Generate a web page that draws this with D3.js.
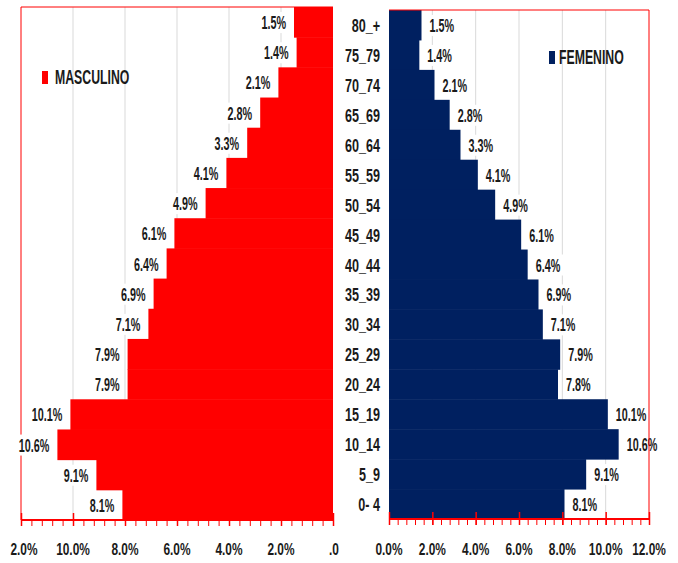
<!DOCTYPE html>
<html>
<head>
<meta charset="utf-8">
<script src="https://cdn.jsdelivr.net/npm/d3@7"></script>
<style>
  body { margin: 0; background: #fff; }
  svg { display: block; }
  text { font-family: "Liberation Sans", Arial, sans-serif; font-weight: bold; fill: #1a1a1a; }
</style>
</head>
<body>
<svg id="chart" width="678" height="563"></svg>
<script>
// data
const ageGroups = ['0- 4', '5_9', '10_14', '15_19', '20_24', '25_29', '30_34', '35_39', '40_44',
  '45_49', '50_54', '55_59', '60_64', '65_69', '70_74', '75_79', '80_+'];
const masculino = [8.1, 9.1, 10.6, 10.1, 7.9, 7.9, 7.1, 6.9, 6.4, 6.1, 4.9, 4.1, 3.3, 2.8, 2.1, 1.4, 1.5];
const femenino  = [8.1, 9.1, 10.6, 10.1, 7.8, 7.9, 7.1, 6.9, 6.4, 6.1, 4.9, 4.1, 3.3, 2.8, 2.1, 1.4, 1.5];
const majorTicks = [0, 2, 4, 6, 8, 10, 12];
const leftTickLabels  = ['.0', '2.0%', '4.0%', '6.0%', '8.0%', '10.0%', '2.0%'];
const rightTickLabels = ['0.0%', '2.0%', '4.0%', '6.0%', '8.0%', '10.0%', '12.0%'];

const red = '#ff0000';
const navy = '#002060';
const grid = '#d9d9d9';

const svg = d3.select('#chart');
const order = ageGroups.slice().reverse();

// condensed text: the reference glyphs are tall and narrow
function label(g, x, y, str, anchor, size, scale) {
  return g.append('text')
    .attr('transform', `translate(${x},${y}) scale(${scale},1)`)
    .attr('text-anchor', anchor)
    .attr('font-size', size)
    .text(str);
}

function panel(opts) {
  const { x0, x12, top, bottom, values, color, side, tickLabels } = opts;
  const x = d3.scaleLinear([0, 12], [x0, x12]);
  const y = d3.scaleBand(order, [top, bottom]);
  const g = svg.append('g');
  const rows = order.map(k => ({ k, v: values[ageGroups.indexOf(k)] }));

  // gridlines
  g.append('g').selectAll('line')
    .data(majorTicks.filter(d => d > 0 && d < 12))
    .join('line')
    .attr('x1', d => x(d)).attr('x2', d => x(d))
    .attr('y1', top).attr('y2', bottom)
    .attr('stroke', grid);

  // bars
  g.append('g').selectAll('rect')
    .data(rows)
    .join('rect')
    .attr('x', d => Math.min(x(0), x(d.v)))
    .attr('width', d => Math.abs(x(d.v) - x(0)))
    .attr('y', d => y(d.k))
    .attr('height', y.bandwidth() + 0.5)
    .attr('fill', color);

  const frame = `M${x0},${top}H${x12}V${bottom}`;
  if (side === 'left') g.append('path').attr('d', frame).attr('fill', 'none').attr('stroke', red);

  // data labels with white boxes
  const lg = g.append('g');
  const ls = 0.6;
  rows.forEach(d => {
    const cy = y(d.k) + y.bandwidth() / 2;
    const tx = side === 'left' ? x(d.v) - 8 : x(d.v) + 8;
    const box = lg.append('rect').attr('fill', '#fff');
    const t = label(lg, tx, cy + 7, d.v.toFixed(1) + '%', side === 'left' ? 'end' : 'start', 18, ls);
    const w = t.node().getComputedTextLength() * ls;
    box.attr('x', side === 'left' ? tx - w - 3 : tx - 3)
      .attr('y', cy - 10).attr('width', w + 6).attr('height', 21);
  });

  if (side !== 'left') g.append('path').attr('d', frame).attr('fill', 'none').attr('stroke', red);

  // bottom axis, minor ticks every 0.4%
  const ax = g.append('g').attr('transform', `translate(0,${bottom})`);
  ax.call(d3.axisBottom(x).tickValues(d3.range(0, 12.001, 0.4)).tickSize(6).tickFormat(''));
  const major = g.append('g').attr('transform', `translate(0,${bottom})`);
  major.call(d3.axisBottom(x).tickValues(majorTicks).tickSize(6).tickFormat(''));
  major.select('.domain').remove();
  major.selectAll('.tick line').attr('y1', -7).attr('stroke-width', 1.5);
  ax.select('.domain').attr('stroke', red).attr('stroke-width', 2).attr('d', `M${x0},0H${x12}`);
  g.selectAll('.tick line').attr('stroke', red);

  majorTicks.forEach((v, i) => {
    const dx = side === 'left' ? (v === 12 ? 3 : v === 0 ? 1 : 0) : 0;
    label(g, x(v) + dx, 555, tickLabels[i], 'middle', 17, 0.7);
  });
  return { x, y };
}

panel({ x0: 333, x12: 21, top: 7, bottom: 520, values: masculino, color: red, side: 'left', tickLabels: leftTickLabels });
const right = panel({ x0: 389, x12: 649, top: 10, bottom: 519, values: femenino, color: navy, side: 'right', tickLabels: rightTickLabels });

// age group labels between the panels
const cat = svg.append('g');
order.forEach(k => {
  label(cat, 380, right.y(k) + right.y.bandwidth() / 2 + 7, k, 'end', 18, 0.7);
});

// legends
svg.append('rect').attr('x', 42).attr('y', 71).attr('width', 6).attr('height', 13).attr('fill', red);
label(svg, 55, 84, 'MASCULINO', 'start', 19.5, 0.63);
svg.append('rect').attr('x', 549).attr('y', 51).attr('width', 6).attr('height', 13).attr('fill', navy);
label(svg, 559, 64, 'FEMENINO', 'start', 19.5, 0.63);
</script>
</body>
</html>
